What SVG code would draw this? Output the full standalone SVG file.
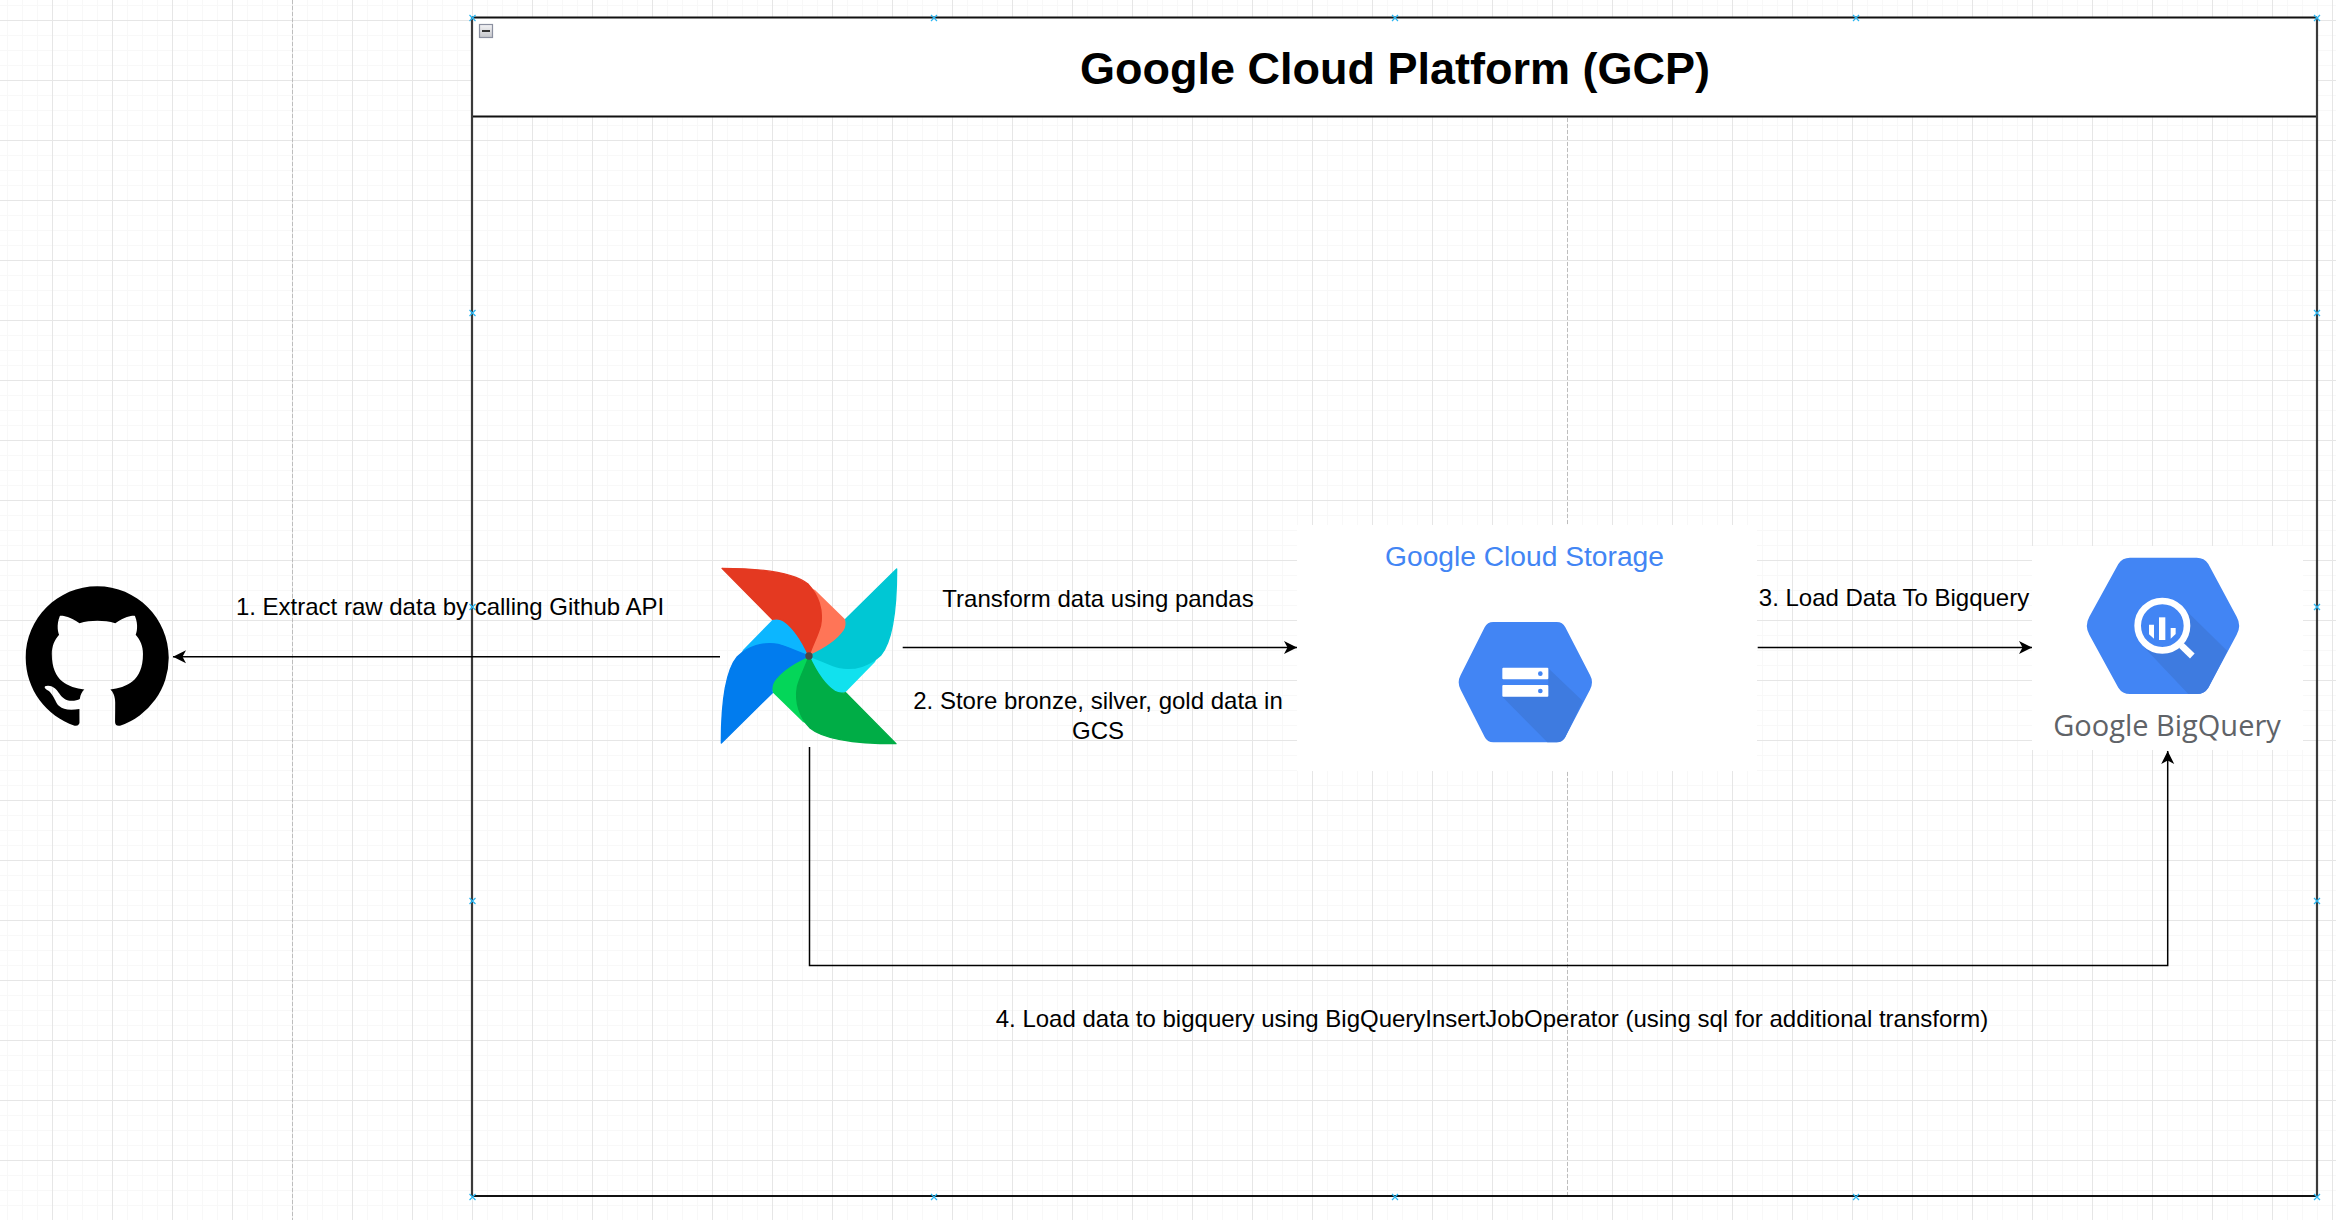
<svg xmlns="http://www.w3.org/2000/svg" width="2336" height="1220" viewBox="0 0 2336 1220">
<style>
.lbl{font-family:"Liberation Sans",Arial,sans-serif;font-size:24px;fill:#000;text-anchor:middle}
.conn{fill:none;stroke:#000;stroke-width:1.5}
.major{stroke:#e6e6e6;stroke-width:1;fill:none}
.minor{stroke:#f8f8f8;stroke-width:1;fill:none}
.h{fill:none;stroke:#29b6f2;stroke-width:1.2}
.frame{stroke:#111;stroke-width:1.8}
.framev{stroke:#3a3a3a;stroke-width:2.2}
</style>
<defs>
<pattern id="grid" patternUnits="userSpaceOnUse" x="52" y="20" width="60" height="60">
<path class="minor" d="M15.5 0V60M30.5 0V60M45.5 0V60M0 15.5H60M0 30.5H60M0 45.5H60"/>
<path class="major" d="M0.5 0V60M0 0.5H60"/>
</pattern>
<marker id="ah" markerUnits="userSpaceOnUse" markerWidth="16" markerHeight="16" refX="13" refY="7" orient="auto">
<path d="M13 7L0 0.5L3.5 7L0 13.5Z" fill="#000"/>
</marker>
<linearGradient id="btn" x1="0" y1="0" x2="0" y2="1"><stop offset="0" stop-color="#f4f4f6"/><stop offset="1" stop-color="#c4c6ca"/></linearGradient>
<path id="hnd" class="h" d="M-3-3L3 3M3-3L-3 3"/>
<path id="hexg" d="M610 306L800 306Q818 306 826 322L900 465Q912 487 900 509L826 651Q818 667 800 667L610 667Q592 667 584 651L512 509Q500 487 512 465L584 322Q592 306 610 306Z"/>
<path id="bd" d="M345 120L435 208Q442 222 445 240C440 290 370 320 327 318C320 280 330 190 325 110Z"/>
<path id="bdk" d="M66 55L217 208C228 205 240 206 250 212C285 235 312 285 327 318C335 290 355 255 362 225C370 180 355 135 325 103C280 65 170 55 66 55Z"/>
</defs>
<rect width="2336" height="1220" fill="#fff"/>
<rect width="2336" height="1220" fill="url(#grid)"/>
<path d="M292.5 0V1220M1567.5 118V1195" stroke="#bdbdbd" stroke-width="1" stroke-dasharray="4 2" fill="none"/>

<g id="gcp-frame">
<rect x="472" y="17.5" width="1845" height="99" fill="#fff"/>
<path class="frame" d="M472 17.5H2317M472 116.5H2317M472 1196H2317" fill="none"/>
<path class="framev" d="M472 17V1196M2317 17V1196" fill="none"/>
<text x="1395" y="84" font-family="Liberation Sans,Arial,sans-serif" font-size="45" font-weight="700" text-anchor="middle" fill="#000">Google Cloud Platform (GCP)</text>
<rect x="479.5" y="24.5" width="13" height="13" fill="url(#btn)" stroke="#8b90a0" stroke-width="1.2"/>
<rect x="482" y="30" width="8" height="2" fill="#333"/>
<g>
<use href="#hnd" x="472.5" y="18"/><use href="#hnd" x="934" y="18"/><use href="#hnd" x="1395" y="18"/><use href="#hnd" x="1856" y="18"/><use href="#hnd" x="2317" y="18"/>
<use href="#hnd" x="472.5" y="313"/><use href="#hnd" x="2317" y="313"/>
<use href="#hnd" x="472.5" y="607"/><use href="#hnd" x="2317" y="607"/>
<use href="#hnd" x="472.5" y="901"/><use href="#hnd" x="2317" y="901"/>
<use href="#hnd" x="472.5" y="1197"/><use href="#hnd" x="934" y="1197"/><use href="#hnd" x="1395" y="1197"/><use href="#hnd" x="1856" y="1197"/><use href="#hnd" x="2317" y="1197"/>
</g>
</g>

<g id="connectors">
<path class="conn" d="M720 656.7H173" marker-end="url(#ah)"/>
<path class="conn" d="M902.7 647.5H1297" marker-end="url(#ah)"/>
<path class="conn" d="M1757.7 647.5H2032" marker-end="url(#ah)"/>
<path class="conn" d="M809.5 747V965.5H2167.7V751" marker-end="url(#ah)"/>
</g>

<g id="github">
<path transform="translate(25.7 586.3) scale(8.94)" fill="#000" d="M8 0C3.58 0 0 3.58 0 8c0 3.54 2.29 6.53 5.47 7.59.4.07.55-.17.55-.38 0-.19-.01-.82-.01-1.49-2.01.37-2.53-.49-2.69-.94-.09-.23-.48-.94-.82-1.13-.28-.15-.68-.52-.01-.53.63-.01 1.08.58 1.23.82.72 1.21 1.87.87 2.33.66.07-.52.28-.87.51-1.07-1.78-.2-3.64-.89-3.64-3.95 0-.87.31-1.59.82-2.15-.08-.2-.36-1.02.08-2.12 0 0 .67-.21 2.2.82.64-.18 1.32-.27 2-.27.68 0 1.36.09 2 .27 1.53-1.04 2.2-.82 2.2-.82.44 1.1.16 1.92.08 2.12.51.56.82 1.27.82 2.15 0 3.07-1.87 3.75-3.65 3.95.29.25.54.73.54 1.48 0 1.07-.01 1.93-.01 2.2 0 .21.15.46.55.38A8.013 8.013 0 0016 8c0-4.42-3.58-8-8-8z"/>
</g>

<g id="airflow" transform="translate(700 550) scale(.33333)" stroke-linejoin="round">
<use href="#bd" fill="#ff7557"/>
<use href="#bd" fill="#11e1ee" transform="rotate(90 327 318)"/>
<use href="#bd" fill="#04d659" transform="rotate(180 327 318)"/>
<use href="#bd" fill="#0cb6ff" transform="rotate(270 327 318)"/>
<use href="#bdk" fill="#e43921" stroke="#e43921" stroke-width="4"/>
<use href="#bdk" fill="#00c7d4" stroke="#00c7d4" stroke-width="4" transform="rotate(90 327 318)"/>
<use href="#bdk" fill="#00ad46" stroke="#00ad46" stroke-width="4" transform="rotate(180 327 318)"/>
<use href="#bdk" fill="#017cee" stroke="#017cee" stroke-width="4" transform="rotate(270 327 318)"/>
<circle cx="327" cy="318" r="11" fill="#4a4848"/>
</g>

<g id="gcs">
<rect x="1297" y="525" width="460" height="246" fill="#fff"/>
<text x="1524.5" y="566" font-family="Liberation Sans,Arial,sans-serif" font-size="28.2" text-anchor="middle" fill="#4285f4">Google Cloud Storage</text>
<g transform="translate(1290 520) scale(.33333)">
<use href="#hexg" fill="#4285f4"/>
<path d="M775 445L878 543L826 651Q818 667 800 667L772 667L637 530L775 530Z" fill="#3e7be0"/>
<rect x="637" y="443" width="138" height="35" rx="3" fill="#fff"/>
<rect x="637" y="495" width="138" height="35" rx="3" fill="#fff"/>
<circle cx="751" cy="461" r="7" fill="#4285f4"/>
<circle cx="751" cy="513" r="7" fill="#4285f4"/>
</g>
</g>

<g id="bigquery">
<rect x="2032" y="546" width="271" height="204" fill="#fff"/>
<g transform="translate(2020 540) scale(.33333)">
<path d="M330 53L530 53Q553 53 565 72L650 230Q665 257 650 284L565 443Q553 462 530 462L330 462Q307 462 295 443L208 284Q193 257 208 230L295 72Q307 53 330 53Z" fill="#4285f4"/>
<path d="M505 218L622 333L565 443Q553 462 530 462L505 462L375 325Z" fill="#3e7be0"/>
<circle cx="427" cy="257" r="74" fill="#4285f4" stroke="#fff" stroke-width="20"/>
<path d="M484 316L517 348" stroke="#fff" stroke-width="20" fill="none"/>
<path d="M417 232H436V300H417Z" fill="#fff"/>
<path d="M387 254H402V296L387 283Z" fill="#fff"/>
<path d="M452 264H467V282L452 296Z" fill="#fff"/>
</g>
<text x="2167" y="736" font-family="Open Sans,sans-serif" font-size="29" text-anchor="middle" fill="#5f6368">Google BigQuery</text>
</g>

<g id="labels">
<text class="lbl" x="450" y="615">1. Extract raw data by calling Github API</text>
<text class="lbl" x="1098" y="607">Transform data using pandas</text>
<text class="lbl" x="1098" y="709">2. Store bronze, silver, gold data in</text>
<text class="lbl" x="1098" y="739">GCS</text>
<text class="lbl" x="1894" y="606">3. Load Data To Bigquery</text>
<text class="lbl" x="1492" y="1027">4. Load data to bigquery using BigQueryInsertJobOperator (using sql for additional transform)</text>
</g>
</svg>
